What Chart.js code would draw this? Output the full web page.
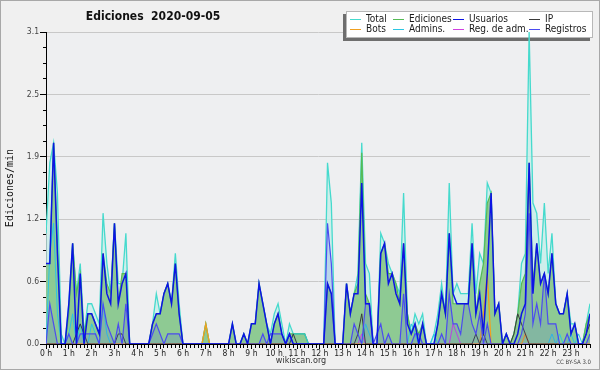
<!DOCTYPE html>
<html>
<head>
<meta charset="utf-8">
<script src="https://cdn.jsdelivr.net/npm/chart.js@4/dist/chart.umd.min.js"></script>
<style>
  html, body { margin: 0; padding: 0; background: #f0f0f0; }
  #wrap { width: 600px; height: 370px; }
</style>
</head>
<body>
<div id="wrap"><canvas id="chart" width="600" height="370"></canvas></div>
<script>
"use strict";

// 10-minute slots across the day (0 = 00:00 ... 143 = 23:50)
const SLOTS = Array.from({ length: 144 }, (_, i) => i);
const HOUR_LABELS = ["0 h", "1 h", "2 h", "3 h", "4 h", "5 h", "6 h", "7 h", "8 h", "9 h", "10 h", "11 h",
  "12 h", "13 h", "14 h", "15 h", "16 h", "17 h", "18 h", "19 h", "20 h", "21 h", "22 h", "23 h"];
const Y_LABELS = ["0.0", "0.6", "1.2", "1.9", "2.5", "3.1"];

// edits per minute, one line per hour (6 slots)
const total = [
  1.1, 1.8, 2.0, 1.5, 0.1, 0,
  0.4, 1.0, 0.5, 0.8, 0.1, 0.4,
  0.4, 0.3, 0.2, 1.3, 0.8, 0.5,
  1.2, 0.6, 0.6, 1.1, 0, 0,
  0, 0, 0, 0, 0.2, 0.5,
  0.3, 0.5, 0.6, 0.4, 0.9, 0.4,
  0, 0, 0, 0, 0, 0,
  0.2, 0, 0, 0, 0, 0,
  0, 0.2, 0, 0, 0.1, 0,
  0.2, 0.2, 0.6, 0.4, 0.2, 0.1,
  0.3, 0.4, 0.2, 0, 0.2, 0.1,
  0.1, 0.1, 0.1, 0, 0, 0,
  0, 0, 1.8, 1.4, 0, 0,
  0, 0.6, 0.3, 0.5, 0.7, 2.0,
  0.8, 0.7, 0, 0, 1.1, 1.0,
  0.8, 0.7, 0.6, 0.5, 1.5, 0.3,
  0.1, 0.3, 0.2, 0.3, 0, 0,
  0.1, 0.3, 0.6, 0.3, 1.6, 0.5,
  0.6, 0.5, 0.5, 0.5, 1.2, 0.5,
  0.9, 0.8, 1.6, 1.5, 0.3, 0.4,
  0, 0.1, 0, 0.1, 0.3, 0.8,
  0.9, 3.1, 1.4, 1.3, 0.8, 1.4,
  0.7, 1.1, 0.4, 0.3, 0.3, 0.5,
  0.2, 0.2, 0, 0, 0.2, 0.4,
];
const ediciones = [
  0.8, 0.8, 2.0, 1.0, 0, 0,
  0.3, 1.0, 0.5, 0.7, 0.1, 0.3,
  0.3, 0.2, 0.1, 0.9, 0.6, 0.5,
  1.2, 0.4, 0.7, 0.7, 0, 0,
  0, 0, 0, 0, 0.2, 0.3,
  0.3, 0.5, 0.6, 0.4, 0.8, 0.3,
  0, 0, 0, 0, 0, 0,
  0.2, 0, 0, 0, 0, 0,
  0, 0.2, 0, 0, 0.1, 0,
  0.2, 0.2, 0.6, 0.4, 0.2, 0,
  0.2, 0.3, 0.1, 0, 0.1, 0.1,
  0.1, 0.1, 0.1, 0, 0, 0,
  0, 0, 0.6, 0.5, 0, 0,
  0, 0.6, 0.3, 0.5, 0.6, 1.9,
  0.5, 0.4, 0, 0, 0.9, 1.0,
  0.7, 0.7, 0.6, 0.4, 1.0, 0.3,
  0.1, 0.2, 0.1, 0.2, 0, 0,
  0, 0.2, 0.5, 0.3, 1.1, 0.4,
  0.4, 0.4, 0.4, 0.4, 1.0, 0.3,
  0.6, 0.8, 1.4, 1.5, 0.3, 0.4,
  0, 0.1, 0, 0.1, 0.3, 0.6,
  0.7, 1.8, 0.6, 1.0, 0.6, 0.7,
  0.5, 0.9, 0.4, 0.3, 0.3, 0.5,
  0.1, 0.2, 0, 0, 0.2, 0.3,
];
const usuarios = [
  0.8, 0.8, 2.0, 0.9, 0, 0,
  0.4, 1.0, 0, 0.7, 0, 0.3,
  0.3, 0.2, 0.1, 0.9, 0.5, 0.4,
  1.2, 0.4, 0.6, 0.7, 0, 0,
  0, 0, 0, 0, 0.2, 0.3,
  0.3, 0.5, 0.6, 0.4, 0.8, 0.3,
  0, 0, 0, 0, 0, 0,
  0, 0, 0, 0, 0, 0,
  0, 0.2, 0, 0, 0.1, 0,
  0.2, 0.2, 0.6, 0.4, 0.2, 0,
  0.2, 0.3, 0.1, 0, 0.1, 0,
  0, 0, 0, 0, 0, 0,
  0, 0, 0.6, 0.5, 0, 0,
  0, 0.6, 0.3, 0.5, 0.5, 1.6,
  0.4, 0.4, 0, 0, 0.9, 1.0,
  0.6, 0.7, 0.5, 0.4, 1.0, 0.2,
  0.1, 0.2, 0, 0.2, 0, 0,
  0, 0.2, 0.5, 0.3, 1.1, 0.5,
  0.4, 0.4, 0.4, 0.4, 1.0, 0.3,
  0.5, 0.1, 0.7, 1.5, 0.3, 0.4,
  0, 0.1, 0, 0, 0.1, 0.3,
  0.4, 1.8, 0.5, 1.0, 0.6, 0.7,
  0.5, 0.9, 0.4, 0.3, 0.3, 0.5,
  0.1, 0.2, 0, 0, 0.1, 0.3,
];
const ip = [
  0, 0, 0, 0, 0, 0,
  0, 0, 0.1, 0.2, 0.1, 0,
  0, 0, 0, 0, 0, 0,
  0, 0.1, 0.1, 0, 0, 0,
  0, 0, 0, 0, 0, 0,
  0, 0, 0, 0, 0, 0,
  0, 0, 0, 0, 0, 0,
  0, 0, 0, 0, 0, 0,
  0, 0, 0, 0, 0, 0,
  0, 0, 0, 0, 0, 0,
  0, 0, 0, 0, 0, 0.1,
  0, 0, 0, 0, 0, 0,
  0, 0, 0, 0, 0, 0,
  0, 0, 0, 0, 0.1, 0.3,
  0, 0, 0, 0, 0, 0,
  0, 0, 0, 0, 0, 0,
  0, 0, 0, 0, 0, 0,
  0, 0, 0, 0, 0, 0,
  0, 0, 0, 0, 0, 0.1,
  0, 0.1, 0, 0, 0, 0,
  0, 0, 0, 0.1, 0.3, 0.2,
  0.1, 0, 0, 0, 0, 0,
  0, 0, 0, 0, 0, 0,
  0, 0, 0, 0, 0.1, 0.2,
];
const bots = [
  0, 0, 0, 0, 0, 0,  0, 0, 0, 0, 0, 0,  0, 0, 0, 0, 0, 0,  0, 0, 0, 0, 0, 0,
  0, 0, 0, 0, 0, 0,  0, 0, 0, 0, 0, 0,  0, 0, 0, 0, 0, 0,  0.2, 0, 0, 0, 0, 0,
  0, 0, 0, 0, 0, 0,  0, 0, 0, 0, 0, 0,  0, 0, 0, 0, 0, 0,  0, 0, 0, 0, 0, 0,
  0, 0, 0, 0, 0, 0,  0, 0, 0, 0, 0, 0,  0, 0, 0, 0, 0, 0,  0, 0, 0, 0, 0, 0,
  0, 0, 0, 0, 0, 0,  0, 0, 0, 0, 0, 0,  0, 0, 0, 0, 0, 0,  0, 0.3, 0.7, 0, 0, 0,
  0, 0, 0, 0, 0, 0,  0.1, 0, 0, 0, 0, 0,  0, 0, 0, 0, 0, 0,  0, 0, 0, 0, 0, 0,
];
const admins = [
  0, 0.9, 1.2, 0.3, 0, 0,
  0.1, 0.3, 0, 0.2, 0, 0,
  0.2, 0.1, 0, 0.4, 0.1, 0,
  0, 0, 0, 0, 0, 0,  0, 0, 0, 0, 0, 0,  0, 0, 0, 0, 0, 0,  0, 0, 0, 0, 0, 0,
  0, 0, 0, 0, 0, 0,  0, 0, 0, 0, 0, 0,  0, 0, 0, 0, 0, 0,
  0, 0, 0, 0, 0, 0.1,
  0.1, 0.1, 0.1, 0, 0, 0,
  0, 0, 0, 0, 0, 0,  0, 0, 0, 0, 0, 0,
  0.2, 0.1, 0, 0, 0, 0,
  0, 0, 0, 0, 0, 0,
  0.2, 0.1, 0, 0, 0, 0,
  0.1, 0, 0, 0, 0, 0,
  0, 0, 0, 0, 0, 0,  0, 0, 0, 0, 0, 0,  0, 0, 0, 0, 0, 0,  0, 0, 0, 0, 0, 0,
  0, 0.1, 0, 0.1, 0, 0,
  0.1, 0, 0.1, 0, 0, 0,
];
const regAdm = [
  0, 0, 0, 0, 0, 0,  0, 0, 0, 0, 0, 0,  0, 0, 0, 0, 0, 0,  0, 0, 0, 0, 0, 0,
  0, 0, 0, 0, 0, 0,  0, 0, 0, 0, 0, 0,  0, 0, 0, 0, 0, 0,  0, 0, 0, 0, 0, 0,
  0, 0, 0, 0, 0, 0,  0, 0, 0, 0, 0, 0,  0, 0, 0, 0, 0, 0,  0, 0, 0, 0, 0, 0,
  0, 0, 0, 0, 0, 0,  0, 0, 0, 0, 0, 0.1,  0, 0, 0, 0, 0, 0,  0, 0, 0, 0, 0, 0,
  0, 0, 0, 0, 0, 0,  0, 0, 0, 0, 0, 0.2,  0.1, 0, 0, 0, 0, 0,  0, 0, 0, 0, 0, 0,
  0, 0, 0, 0, 0, 0,  0, 0, 0, 0, 0, 0,  0, 0, 0, 0, 0, 0,  0, 0, 0, 0, 0, 0,
];
const registros = [
  0, 0.4, 0.2, 0, 0, 0,
  0.1, 0, 0, 0.1, 0.1, 0.1,
  0.1, 0.1, 0, 0.4, 0.2, 0.1,
  0, 0.2, 0, 0.4, 0, 0,
  0, 0, 0, 0, 0.1, 0.2,
  0.1, 0, 0.1, 0.1, 0.1, 0.1,
  0, 0, 0, 0, 0, 0,
  0, 0, 0, 0, 0, 0,
  0, 0, 0, 0, 0, 0,
  0, 0, 0, 0.1, 0, 0.1,
  0.1, 0.1, 0.1, 0, 0.1, 0,
  0, 0, 0, 0, 0, 0,
  0, 0, 1.2, 0.8, 0, 0,
  0, 0, 0, 0.2, 0.1, 0,
  0.4, 0.4, 0, 0.1, 0.2, 0,
  0.1, 0, 0, 0, 0.5, 0,
  0, 0.1, 0.1, 0, 0, 0,
  0, 0, 0.1, 0, 0.5, 0.2,
  0.2, 0.1, 0.4, 0.4, 0.2, 0.1,
  0.3, 0, 0.2, 0, 0, 0,
  0, 0, 0, 0, 0, 0.1,
  0.3, 1.3, 0.2, 0.4, 0.2, 0.7,
  0.2, 0.2, 0.2, 0, 0, 0.1,
  0, 0, 0, 0, 0, 0.1,
];

const FONT = "'DejaVu Sans Condensed', 'DejaVu Sans', sans-serif";

function line(label, data, color, width, order, fillColor) {
  return {
    label, data, order,
    borderColor: color,
    borderWidth: width,
    backgroundColor: fillColor || color,
    fill: fillColor ? "origin" : false,
    pointRadius: 0,
    tension: 0,
  };
}

// legend order: row 1 then row 2, four columns
const datasets = [
  line("Total", total, "#45dacd", 1.3, 7, "rgba(198,238,234,0.8)"),
  line("Ediciones", ediciones, "#55bb55", 1.2, 6, "rgba(138,199,142,0.95)"),
  line("Usuarios", usuarios, "#0c14e4", 1.5, 0),
  line("IP", ip, "#3a3a3a", 1, 2),
  line("Bots", bots, "#f0a020", 1.3, 3),
  line("Admins.", admins, "#2cc6e2", 1, 5),
  line("Reg. de adm.", regAdm, "#d040e0", 1, 4),
  line("Registros", registros, "#4b4bf0", 1.2, 1, "rgba(80,90,230,0.17)"),
];

const decor = {
  id: "decor",
  beforeDraw(chart) {
    const { ctx, chartArea: a } = chart;
    ctx.save();
    ctx.fillStyle = "#f0f0f0";
    ctx.fillRect(0, 0, 600, 370);
    ctx.strokeStyle = "#a8a8a8";
    ctx.lineWidth = 1;
    ctx.strokeRect(0.5, 0.5, 599, 369);
    ctx.fillStyle = "#eeeff1";
    ctx.fillRect(a.left, a.top, a.right - a.left, a.bottom - a.top);
    ctx.restore();
  },
  beforeDatasetsDraw(chart) {
    const { ctx } = chart;
    ctx.save();
    // legend box with shadow
    ctx.fillStyle = "#6e6e6e";
    ctx.fillRect(343, 14, 247, 27);
    ctx.fillStyle = "#ffffff";
    ctx.fillRect(346, 11, 247, 27);
    ctx.strokeStyle = "#b8b8b8";
    ctx.strokeRect(346.5, 11.5, 246, 26);
    const cols = [350, 393, 453, 529];
    const rows = [19.5, 29.5];
    ctx.font = "10px " + FONT;
    ctx.textBaseline = "middle";
    ctx.textAlign = "left";
    chart.data.datasets.forEach((ds, i) => {
      const x = cols[i % 4];
      const y = rows[Math.floor(i / 4)];
      ctx.strokeStyle = ds.borderColor;
      ctx.lineWidth = 1;
      ctx.beginPath();
      ctx.moveTo(x, y);
      ctx.lineTo(x + 11, y);
      ctx.stroke();
      ctx.fillStyle = "#1a1a1a";
      ctx.fillText(ds.label, x + 16, y);
    });
    ctx.restore();
  },
  afterDraw(chart) {
    const { ctx } = chart;
    ctx.save();
    ctx.fillStyle = "#111";
    ctx.textAlign = "center";
    ctx.textBaseline = "middle";
    ctx.font = "bold 12px " + FONT;
    ctx.fillText("Ediciones  2020-09-05", 153, 17);
    ctx.font = "9px " + FONT;
    ctx.fillStyle = "#333";
    ctx.fillText("wikiscan.org", 301, 361);
    ctx.font = "6px " + FONT;
    ctx.fillStyle = "#444";
    ctx.textAlign = "right";
    ctx.fillText("CC BY-SA 3.0", 591, 362);
    ctx.translate(10, 188);
    ctx.rotate(-Math.PI / 2);
    ctx.textAlign = "center";
    ctx.font = "10px 'DejaVu Sans Mono', monospace";
    ctx.fillStyle = "#111";
    ctx.fillText("Ediciones/min", 0, 0);
    ctx.restore();
  },
};

new Chart(document.getElementById("chart"), {
  type: "line",
  data: { labels: SLOTS, datasets },
  options: {
    responsive: false,
    animation: false,
    devicePixelRatio: 1,
    layout: { padding: { top: 32, right: 10, left: 0, bottom: 0 } },
    plugins: { legend: { display: false }, tooltip: { enabled: false } },
    scales: {
      x: {
        type: "linear",
        min: 0,
        max: 143,
        z: 1,
        afterFit: (s) => { s.height = 26; },
        border: { color: "#000", width: 1 },
        grid: {
          drawOnChartArea: false,
          tickLength: 5,
          tickColor: "#000",
          tickBorderDash: (c) => (c.tick && c.tick.value % 6 === 0 ? [] : [3, 10]),
        },
        ticks: {
          stepSize: 1,
          autoSkip: false,
          maxRotation: 0,
          minRotation: 0,
          padding: 0,
          color: "#222",
          font: { family: FONT, size: 8.5 },
          callback: (v) => (v % 6 === 0 ? HOUR_LABELS[v / 6] || "" : ""),
        },
      },
      y: {
        min: 0,
        max: 3.1,
        z: 1,
        afterFit: (s) => { s.width = 46; },
        border: { color: "#000", width: 1 },
        grid: {
          color: (c) => (c.index % 4 === 0 && c.index > 0 ? "#c8c8c8" : "rgba(0,0,0,0)"),
          tickColor: "#000",
          tickLength: 6,
          tickBorderDash: (c) => (c.index % 4 === 0 ? [] : [3, 3]),
          tickBorderDashOffset: (c) => (c.index % 4 === 0 ? 0 : 3),
        },
        ticks: {
          stepSize: 0.155,
          autoSkip: false,
          padding: 1,
          color: "#444",
          font: { family: FONT, size: 8.5 },
          callback: (v, i) => (i % 4 === 0 ? Y_LABELS[i / 4] : ""),
        },
      },
    },
  },
  plugins: [decor],
});
</script>
</body>
</html>
